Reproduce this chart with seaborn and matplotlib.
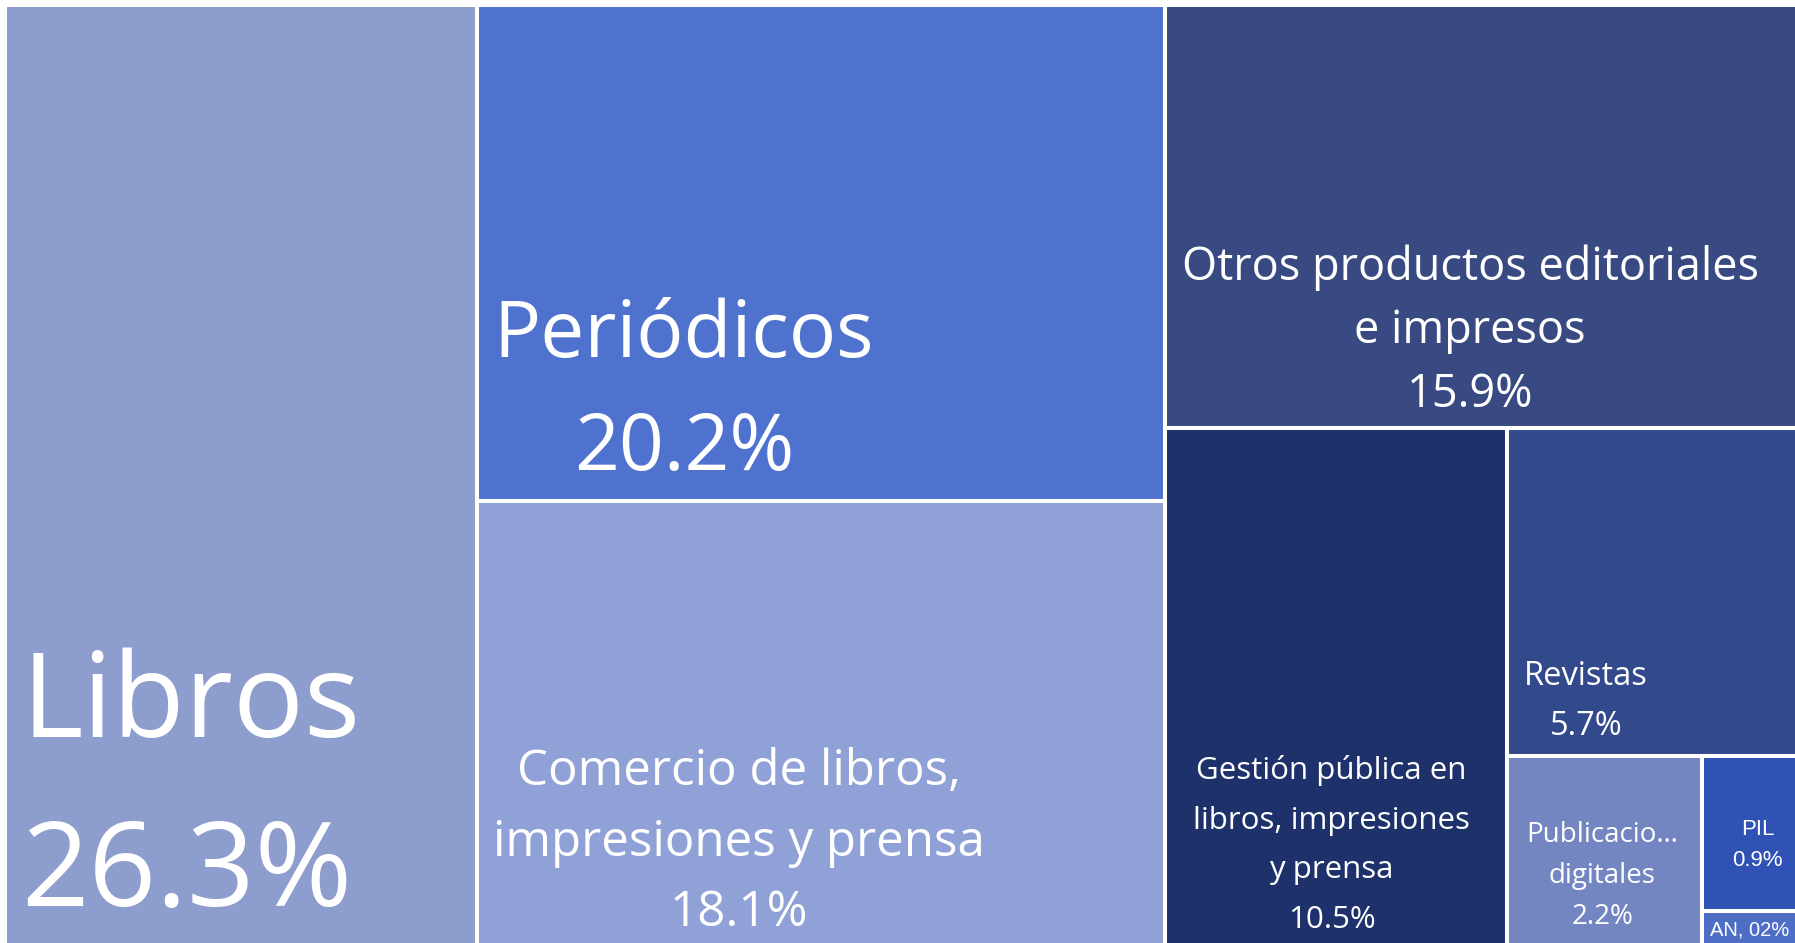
import matplotlib
matplotlib.use("Agg")
import matplotlib.pyplot as plt
import seaborn as sns

# Participación por subsector (%)
categories = [
    "Libros",
    "Periódicos",
    "Comercio de libros, impresiones y prensa",
    "Otros productos editoriales e impresos",
    "Gestión pública en libros, impresiones y prensa",
    "Revistas",
    "Publicaciones digitales",
    "PIL",
    "AN",
]
shares = [26.3, 20.2, 18.1, 15.9, 10.5, 5.7, 2.2, 0.9, 0.2]

# text shown in each tile (as in the original, incl. truncation)
tile_labels = [
    ["Libros", "26.3%"],
    ["Periódicos", "20.2%"],
    ["Comercio de libros,", "impresiones y prensa", "18.1%"],
    ["Otros productos editoriales", "e impresos", "15.9%"],
    ["Gestión pública en", "libros, impresiones", "y prensa", "10.5%"],
    ["Revistas", "5.7%"],
    ["Publicacio…", "digitales", "2.2%"],
    ["PIL", "0.9%"],
    ["AN, 02%"],
]

# columns of the treemap (indices into categories)
groups = [[0], [1, 2], [3, 4, 5, 6, 7, 8]]

colors = ["#8D9DCD", "#4F72CF", "#8FA1D6", "#394A82", "#1E316B",
          "#324A8B", "#7386C2", "#3052B5", "#4E6EC6"]

# label placement: anchor x (fraction of tile width), first baseline
# (fraction of tile height), line step (px), font size (pt), alignment
label_style = [
    (0.034, 0.778, 169, 85, "left"),
    (0.301, 0.710, 113, 56.5, "center"),
    (0.381, 0.638, 70.5, 35.5, "center"),
    (0.481, 0.650, 63.5, 32.5, "center"),
    (0.488, 0.678, 49.5, 22.5, "center"),
    (0.271, 0.783, 50, 23.5, "center"),
    (0.489, 0.455, 41, 20, "center"),
    (0.564, 0.509, 31, 16, "center"),
    (0.080, 0.700, 31, 14.5, "left"),
]


def alternating(vals, x, y, w, h, vertical=True):
    """slice-and-dice: first item takes its share, rest alternates direction"""
    if len(vals) == 1:
        return [(x, y, w, h)]
    frac = vals[0] / sum(vals)
    if vertical:
        first = (x, y, w, h * frac)
        rest = (x, y + h * frac, w, h * (1 - frac))
    else:
        first = (x, y, w * frac, h)
        rest = (x + w * frac, y, w * (1 - frac), h)
    return [first] + alternating(vals[1:], *rest, vertical=not vertical)


def layout(values):
    total = sum(values)
    rects = [None] * len(values)
    x = 0.0
    for g in groups:
        gw = sum(values[i] for i in g) / total
        for i, r in zip(g, alternating([values[i] for i in g], x, 0.0, gw, 1.0)):
            rects[i] = r
        x += gw
    return rects


sns.set_theme(style="white")
plt.rcParams["font.family"] = ["Open Sans", "DejaVu Sans"]

W_PX, H_PX = 1795, 943
X0, Y0, TW, TH = 5, 5, 1795, 941  # treemap area in pixels (runs off the right/bottom edge)

fig = plt.figure(figsize=(W_PX / 100, H_PX / 100), dpi=100)
ax = fig.add_axes([0, 0, 1, 1])
ax.set_xlim(-X0 / TW, (W_PX - X0) / TW)
ax.set_ylim((H_PX - Y0) / TH, -Y0 / TH)
ax.axis("off")

rects = layout(shares)
ax.bar(
    x=[r[0] for r in rects],
    height=[r[3] for r in rects],
    width=[r[2] for r in rects],
    bottom=[r[1] for r in rects],
    align="edge",
    color=colors,
    edgecolor="white",
    linewidth=2.9,
)

for (x, y, w, h), lines, (fx, fy, step, size, ha) in zip(rects, tile_labels, label_style):
    tx = x + fx * w
    ty = y + fy * h
    for k, line in enumerate(lines):
        fam = ["Liberation Sans Narrow", "Liberation Sans", "DejaVu Sans"] if size < 17 else None
        ax.text(tx, ty + k * step / TH, line, ha=ha, va="baseline",
                fontsize=size, color="white", family=fam, clip_on=True)

fig.savefig("out.png", dpi=100)
